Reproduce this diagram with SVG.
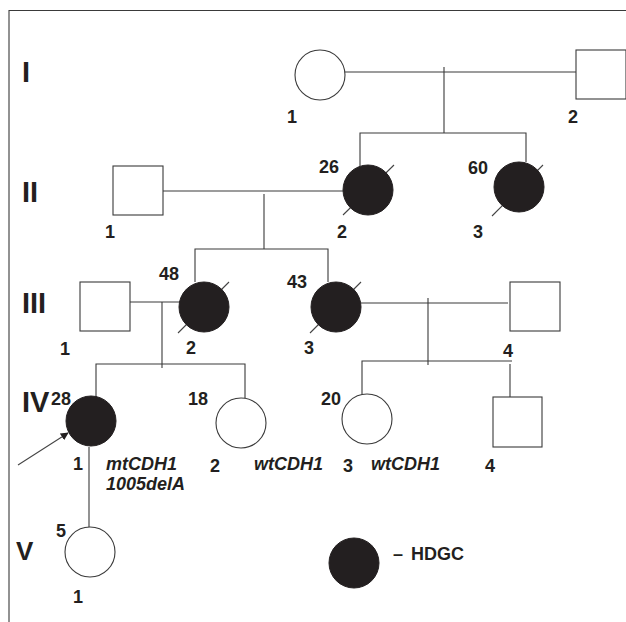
<svg xmlns="http://www.w3.org/2000/svg" width="626" height="622" viewBox="0 0 626 622">
<style>
.l{stroke:#3a3a3a;stroke-width:1.1;fill:none}
.o{fill:#fff;stroke:#3a3a3a;stroke-width:1.1}
.f{fill:#231f20;stroke:#231f20;stroke-width:1}
.s{stroke:#444;stroke-width:1.1}
text{font-family:"Liberation Sans",Arial,sans-serif;font-weight:bold;fill:#231f20}
.n{font-size:18px}
.g{font-size:29px}
.i{font-size:18px;font-style:italic}
</style>
<defs>
<marker id="ah" viewBox="0 0 10 10" refX="9" refY="5" markerWidth="8" markerHeight="8" orient="auto" markerUnits="userSpaceOnUse">
<path d="M0,0 L10,5 L0,10 z" fill="#231f20"/>
</marker>
</defs>
<rect width="626" height="622" fill="#fff"/>
<path class="l" d="M9,622 V10.5 H626"/>
<g id="connectors">
<path class="l" d="M320,72 H576"/>
<path class="l" d="M444,67 V133"/>
<path class="l" d="M360,166 V133 H526 V162"/>
<path class="l" d="M163,191 H345"/>
<path class="l" d="M264,194 V249"/>
<path class="l" d="M195,282 V249 H328 V282"/>
<path class="l" d="M130,302 H180"/>
<path class="l" d="M162,302 V368"/>
<path class="l" d="M96,397 V364 H245 V399"/>
<path class="l" d="M361,303 H508"/>
<path class="l" d="M428,298 V365"/>
<path class="l" d="M362,394 V361 H512"/>
<path class="l" d="M510,364 V397"/>
<path class="l" d="M89,447 V527"/>
<line class="s" x1="18" y1="465" x2="68" y2="433" marker-end="url(#ah)"/>
</g>
<g id="gen-labels">
<text class="g" x="22" y="82">I</text>
<text class="g" x="22" y="202">II</text>
<text class="g" x="22" y="313">III</text>
<text class="g" x="22" y="412">IV</text>
<text class="g" x="16" y="560" style="font-size:26px">V</text>
</g>
<g id="I-1"><ellipse class="o" cx="320" cy="75" rx="25" ry="25"/><text class="n" x="287" y="123">1</text></g>
<g id="I-2"><rect class="o" x="576" y="50" width="50" height="49"/><text class="n" x="568" y="123">2</text></g>
<g id="II-1"><rect class="o" x="113" y="166" width="50" height="49"/><text class="n" x="105" y="238">1</text></g>
<g id="II-2"><line class="s" x1="343" y1="215" x2="394" y2="165"/><ellipse class="f" cx="368" cy="190" rx="25" ry="25"/><text class="n" x="319" y="173">26</text><text class="n" x="337" y="238">2</text></g>
<g id="II-3"><line class="s" x1="492" y1="216" x2="543" y2="165"/><ellipse class="f" cx="519" cy="187" rx="25" ry="25"/><text class="n" x="468" y="174">60</text><text class="n" x="473" y="238">3</text></g>
<g id="III-1"><rect class="o" x="80" y="282" width="50" height="49"/><text class="n" x="60" y="355">1</text></g>
<g id="III-2"><line class="s" x1="178" y1="333" x2="229" y2="282"/><ellipse class="f" cx="204" cy="307" rx="25" ry="25"/><text class="n" x="159" y="280">48</text><text class="n" x="186" y="354">2</text></g>
<g id="III-3"><line class="s" x1="310" y1="333" x2="361" y2="282"/><ellipse class="f" cx="336" cy="307" rx="25" ry="25"/><text class="n" x="287" y="288">43</text><text class="n" x="304" y="354">3</text></g>
<g id="III-4"><rect class="o" x="510" y="282" width="50" height="49"/><text class="n" x="503" y="357">4</text></g>
<g id="IV-1"><ellipse class="f" cx="91" cy="421" rx="25" ry="25"/><text class="n" x="51" y="405">28</text><text class="n" x="73" y="470">1</text><text class="i" x="106" y="470">mtCDH1</text><text class="i" x="106" y="490">1005delA</text></g>
<g id="IV-2"><ellipse class="o" cx="241" cy="423" rx="25" ry="25"/><text class="n" x="188" y="405">18</text><text class="n" x="210" y="472">2</text><text class="i" x="254" y="470">wtCDH1</text></g>
<g id="IV-3"><ellipse class="o" cx="367" cy="419" rx="25" ry="25"/><text class="n" x="321" y="405">20</text><text class="n" x="343" y="472">3</text><text class="i" x="371" y="470">wtCDH1</text></g>
<g id="IV-4"><rect class="o" x="493" y="397" width="49" height="50"/><text class="n" x="485" y="472">4</text></g>
<g id="V-1"><ellipse class="o" cx="90" cy="552" rx="25" ry="25"/><text class="n" x="56" y="537">5</text><text class="n" x="73" y="603">1</text></g>
<g id="legend"><ellipse class="f" cx="354" cy="563" rx="25" ry="25"/><text class="n" x="393" y="560">–</text><text class="n" x="411" y="560">HDGC</text></g>
</svg>
